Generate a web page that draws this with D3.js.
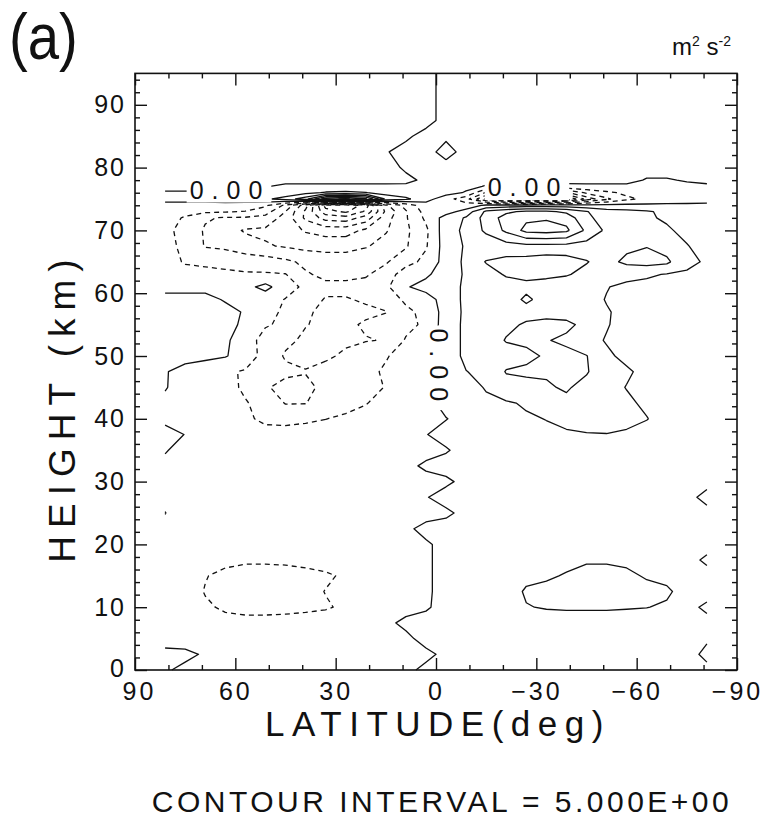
<!DOCTYPE html>
<html><head><meta charset="utf-8">
<script src="https://cdn.jsdelivr.net/npm/d3@7"></script>
<style>
html,body{margin:0;padding:0;background:#fff;}
svg{display:block;}
text{font-family:"Liberation Sans", Arial, sans-serif;fill:#111;}
</style></head><body>
<svg id="chart" width="767" height="831"></svg>
<script>
// latitude columns (deg) and height rows (km, top to bottom)
const lats = [81,75,69,63,57,51,45,39,33,27,21,15,9,3,-3,-9,-15,-21,-27,-33,-39,-45,-51,-57,-63,-69,-75,-81];
const heights = [95,92.5,90,87.5,85,82.5,80,78,77,76,75,74,73,72,70,67.5,65,63,61,59,57,55,52.5,50,47.5,45,42.5,40,37.5,35,32.5,30,27.5,25,22.5,20,17.5,15,12.5,10,7.5,5,2.5,0];
// field values (m2 s-2), one row per height
const field = [
[-1.5,-1.5,-1.5,-1.5,-1.5,-1.5,-1.5,-1.5,-1.5,-1.5,-1.5,-1.5,-1.5,-1,1,1.5,1.5,1.5,1.5,1.5,1.5,1.5,1.5,1.5,1.5,1.5,1.5,1.5],
[-1.5,-1.5,-1.5,-1.5,-1.5,-1.5,-1.5,-1.5,-1.5,-1.5,-1.5,-1.5,-1.5,-1,1,1.5,1.5,1.5,1.5,1.5,1.5,1.5,1.5,1.5,1.5,1.5,1.5,1.5],
[-1.5,-1.5,-1.5,-1.5,-1.5,-1.5,-1.5,-1.5,-1.5,-1.5,-1.5,-1.5,-1.5,-1,1,1.5,1.5,1.5,1.5,1.5,1.5,1.5,1.5,1.5,1.5,1.5,1.5,1.5],
[-1.5,-1.5,-1.5,-1.5,-1.5,-1.5,-1.5,-1.5,-1.5,-1.5,-1.5,-1.5,-1.5,-1,1,1.5,1.5,1.5,1.5,1.5,1.5,1.5,1.5,1.5,1.5,1.5,1.5,1.5],
[-1.5,-1.5,-1.5,-1.5,-1.5,-1.5,-1.5,-1.5,-1.5,-1.5,-1.5,-1.5,-0.5,1,0.5,1.5,1.5,1.5,1.5,1.5,1.5,1.5,1.5,1.5,1.5,1.5,1.5,1.5],
[-1.5,-1.5,-1.5,-1.5,-1.5,-1.5,-1.5,-1.5,-1.5,-1.5,-1.5,-0.2,1,1,-1,1,1.5,1.5,1.5,1.5,1.5,1.5,1.5,1.5,1.5,1.5,1.5,1.5],
[-1.5,-1.5,-1.5,-1.5,-1.5,-1.5,-1.5,-1.5,-1.5,-1.5,-1.5,-1,0.4,1,1,1.5,1.5,1.5,1.5,1.5,1.5,1.5,1.5,1.5,1.5,1.5,1.5,1.5],
[-1.5,-1.5,-1.5,-1.5,-1.5,-1.5,-1.5,-1.5,-1.5,-1.5,-1.5,-1.5,-0.6,0.5,1.2,1.2,1.2,1.2,1.2,1.2,1.2,1.2,1.2,1.2,-0.3,-0.3,0.3,0.8],
[-1.5,-1.5,-1.5,-1,-1,-0.3,1,1,1,1,1,1,0.5,1.5,1.5,1.2,-0.3,-1,-1.5,-1.5,-1,-0.8,-0.8,-0.8,-1,-1,-0.8,-0.6],
[0.5,0.5,0.5,0.8,0.8,1.2,1.8,3.5,5.5,6,5.2,2.8,2,2,2,-0.5,-10.5,-16,-21,-19,-16,-9,-6,-4,-3,-2.5,-2,-1.5],
[2,2,2,2.5,3,4,7,13,28,31,26,9,6,2,-3,-8,-21,-32,-41,-38,-31,-18,-11,-6,-4,-3,-2.5,-2],
[-2,-2,-2,-2,-2.5,-4,-11,-23,-42,-44,-38,-16,-8,-2,-3,-3,1,1.5,2,2,2,1.5,1.5,1.2,1,1,1,1],
[-2.5,-3.5,-4,-4.5,-5.2,-8,-15,-26,-38,-41,-34,-19,-10.5,-3,-2,2,11,14,16,16,14,10.3,7,6.5,5.5,4,3,2.5],
[-3,-5.5,-9.5,-10.5,-10.5,-11.5,-17,-26,-32,-33,-28,-17,-10.5,-4,2,5.5,12,17,19,19.5,18,11,8,7,5.5,4.5,3.5,3],
[-3.5,-7,-10.5,-13,-15.5,-16,-17.5,-20.5,-22,-22,-19,-15.5,-11,-6,3,6,11,16,21.5,22,21,14,9,7.5,6.5,5.5,4,3],
[-3,-6.5,-10.3,-11,-13,-14.5,-15.5,-16.5,-17,-17,-15.5,-13,-10.5,-5.5,2.5,5.5,6.5,8,8.5,8.5,8.5,8,7.5,9,9.8,8,5.2,3.5],
[-2.8,-5.5,-6,-6.5,-7,-7.5,-9,-11,-12,-12,-11,-10.5,-7,-3.5,2,6,10.3,11,10.8,11.2,11,10.2,8.5,11,12,11,6,4.5],
[-1.5,-3,-3.5,-4,-4.5,-4.5,-4.8,-9.5,-11,-11,-10.5,-8,-2,-1,3,5.5,8,10.5,11,10.8,10.3,9,7,6.5,5.5,4.8,4.5,4],
[-1,-1,-1,-1.3,-1.5,1.5,-3,-6,-9,-9,-8.5,-6,-0.5,2,2.5,6,7.5,8,9,8.5,8,7,5.2,4,4,4,3.8,3.8],
[1,1,1,-0.3,-1,-3,-5.2,-8,-10.3,-10.3,-9.5,-8,-4,-2.5,2.5,6,7.5,8,10.7,8.5,8,6.5,4.8,3.8,3.5,3.5,3.5,3.5],
[1,1,1,1,-0.3,-3.5,-5.8,-9.5,-10.8,-11,-10.8,-10.2,-6.2,-3.5,2,6,7.5,8.2,8.5,8.8,8.5,7.5,5.3,4,3.5,3.5,3.5,3.5],
[1,1,1,0.8,-0.5,-4.5,-6,-9.8,-11,-10.8,-9.5,-8,-6.5,-4,2.5,6,7.5,9,10.5,11,10.8,9,5.2,4,3.5,3.5,3.5,3.5],
[1,1,1,0.8,-2.5,-7,-9,-10.8,-11,-10.5,-10.2,-9.8,-4.5,-2,2.5,6,7.5,10.3,10.8,10.2,9.3,6,4.8,4,3.5,3.5,3.5,3.5],
[1,1,0.8,0.3,-2,-7,-10.5,-11,-10.5,-9.5,-8,-5.3,-3.5,-2,2.5,6,7,8,9,10.5,11,10.2,5.5,4.3,3.5,3.5,3.5,3.5],
[0.2,-1,-2,-4.2,-5.5,-8,-9,-9.8,-9,-8,-6,-4.5,-3,-2,2.5,4.9,6,10.3,10.8,10.5,11,10.4,7,5.4,4.2,3.5,3.5,3.5],
[0.3,-2,-3,-4,-5.5,-9.5,-11.5,-11,-9,-7.5,-6.5,-4.8,-3,-2,2,4,5.2,8,8.5,9.5,10.5,8.5,6,4.9,4,4,4,4],
[-1,-2,-3,-4,-4.8,-6,-10.3,-10.2,-7,-6,-5.2,-3.5,-2.5,-2,2,3,4.5,4.5,5.5,6.5,9,7.5,6.5,5.5,4.5,4,4,4],
[-1,-2,-2.5,-3.5,-4.5,-5.6,-5.6,-5.4,-5.05,-4.5,-3.5,-2.5,-2,-2,-0.2,2,3,4,4.5,5.1,6,6.5,6.5,6,5.1,4,3.5,3],
[1.5,-0.1,-2,-2.5,-3.5,-4,-4.2,-4,-3.8,-3.5,-3,-2.5,-2,-0.2,2,2.5,3,3.5,3.8,4.2,4.5,4.8,4.9,4.5,4,3.5,3,2.5],
[0.3,-1.5,-2,-2.2,-2.5,-2.8,-2.8,-2.5,-2.3,-2.2,-2,-2,-2,-2,-0.5,2,2.5,2.8,3,3,3.2,3.3,3.3,3,2.8,2.5,2.2,2],
[-1,-1.5,-2,-2,-2.2,-2.3,-2.3,-2.2,-2,-2,-2,-2,-1.5,1,2,2,2.3,2.5,2.5,2.6,2.8,2.8,2.8,2.6,2.5,2.3,2,1.8],
[-1,-1.5,-2,-2,-2,-2,-2,-2,-2,-2,-2,-2,-2,-2,-1,1.5,2,2.3,2.5,2.5,2.5,2.5,2.5,2.5,2.3,2,2,1.5],
[-1,-1.5,-2,-2,-2,-2,-2,-2,-2,-2,-2,-2,-2,-0.3,2,2.2,2.3,2.3,2.3,2.3,2.3,2.3,2.3,2.3,2.2,2,1.5,-1.5],
[0.1,-2,-2,-2,-2,-2,-2,-2,-2,-2,-2,-2,-2,-2,-1,1.5,2,2,2,2,2,2,2,2,2,2,2,1.5],
[-1,-2,-2,-2,-2,-2,-2,-2,-2,-2,-2,-2,-1,1.5,2,2,2,2,2,2,2,2,2,2,2,2,2,1.5],
[-1,-2,-2.5,-3,-3,-3,-3,-3,-2.5,-2.5,-2,-2,-2,-0.7,1.5,2,2,2.2,2.5,2.8,3,3.2,3.2,3,2.8,2.5,2,1.5],
[-1,-2,-3,-4,-4.3,-4.3,-4.3,-4,-3.5,-3,-2.5,-2,-1.5,-0.7,1.5,2,2.5,3,3.2,3.5,4,4.5,4.5,4,3.5,3,1.5,-0.8],
[-1,-3,-4.8,-6,-7,-7,-6.5,-6,-5.5,-4.5,-3,-2,-1.5,-0.7,1.5,2,2.5,3,4,4.5,5.3,6.5,6.5,6,4.5,4,2.5,1.5],
[-1,-3.2,-5.2,-6.5,-7.5,-7.5,-7,-6,-4.9,-4.5,-3,-2,-1.5,-0.7,1.5,2,2.5,3,5.5,6,7,7.5,7.5,7,6.5,5.6,3.5,2],
[-1,-2.5,-4.5,-5.5,-6,-6,-5.8,-5.5,-5.3,-4.5,-3,-2,-1.5,-0.5,1.5,2,2.5,3,4.8,5.3,5.5,5.5,5.5,5.3,5.1,4.5,1.5,-1],
[-1,-2,-3,-4,-4,-4,-4,-4,-3.5,-3,-2,-1,1,1.5,2,2,2.5,3,3,3,3,3,3,3,3,3,2,1.5],
[-3,-2,-2,-2,-2,-2,-2,-2,-2,-2,-2,-2,-1,1.5,2,2,2,2,2,2,2,2,2,2,2,2,1.5,0.5],
[2,1,-0.5,-1.5,-1.5,-1.5,-1.5,-1.5,-1.5,-1.5,-1.5,-1.5,-1.5,-1,1,1.5,1.5,1.5,1.5,1.5,1.5,1.5,1.5,1.5,1.5,1.5,1.5,-1],
[0.5,-1,-1.5,-1.5,-1.5,-1.5,-1.5,-1.5,-1.5,-1.5,-1.5,-1.5,-1,1,1.5,1.5,1.5,1.5,1.5,1.5,1.5,1.5,1.5,1.5,1.5,1.5,1.5,1]
];
const levels = [-50,-45,-40,-35,-30,-25,-20,-15,-10,-5,0,5,10,15,20,25,30,35];
const xMajorTicks = [90,60,30,0,-30,-60,-90];
const xMinorTicks = [80,70,50,40,20,10,-10,-20,-40,-50,-70,-80];
const yMajorTicks = [0,10,20,30,40,50,60,70,80,90];
const zeroLabels = [
  {lat:62.8, h:76.5, rot:0},
  {lat:-26.3, h:76.9, rot:0},
  {lat:-0.8, h:48.6, rot:90}
];

const svg = d3.select("#chart");
const X0 = 135, X1 = 737, Y0 = 670, Y1 = 73.4;
const x = d3.scaleLinear().domain([90,-90]).range([X0,X1]);
const y = d3.scaleLinear().domain([0,95]).range([Y0,Y1]);

const nx = lats.length, ny = heights.length;
const values = field.flat();
const contours = d3.contours().size([nx, ny]).thresholds(levels)(values);
function interp(arr, t){
  const n = arr.length;
  t = Math.max(0, Math.min(n-1, t));
  const i = Math.min(n-2, Math.floor(t));
  const f = t - i;
  return arr[i] + (arr[i+1]-arr[i]) * f;
}
const cg = svg.append("g");
contours.forEach(c => {
  let d = "";
  c.coordinates.forEach(poly => poly.forEach(ring => {
    const pts = ring.map(([px,py]) => {
      const ix = Math.max(0, Math.min(nx-1, px-0.5));
      const iy = Math.max(0, Math.min(ny-1, py-0.5));
      return {ix, iy, X: x(interp(lats, ix)), Y: y(interp(heights, iy))};
    });
    const a0 = pts[0], aL = pts[pts.length-1];
    if (a0.ix !== aL.ix || a0.iy !== aL.iy) pts.push(a0);
    let pen = false;
    for (let k = 0; k < pts.length-1; k++){
      const a = pts[k], b = pts[k+1];
      const onB = (a.ix===0&&b.ix===0)||(a.ix===nx-1&&b.ix===nx-1)||(a.iy===0&&b.iy===0)||(a.iy===ny-1&&b.iy===ny-1);
      if (onB){ pen = false; continue; }
      if (!pen){ d += "M" + a.X.toFixed(2) + "," + a.Y.toFixed(2); pen = true; }
      d += "L" + b.X.toFixed(2) + "," + b.Y.toFixed(2);
    }
  }));
  if (!d) return;
  cg.append("path").attr("d", d).attr("fill","none").attr("stroke","#111")
    .attr("stroke-width", 1.3).attr("stroke-linejoin","round")
    .attr("stroke-dasharray", c.value < 0 ? "5,4" : null);
});

// zero labels
zeroLabels.forEach(L => {
  const g = svg.append("g").attr("transform", `translate(${x(L.lat)},${y(L.h)}) rotate(${L.rot})`);
  const t = g.append("text").text("0.00").attr("text-anchor","middle").attr("dy","0.36em")
    .attr("dx", 4).style("font-size","25px").style("letter-spacing","8px");
  const bb = t.node().getBBox();
  g.insert("rect","text").attr("x", bb.x-3).attr("y", bb.y+1).attr("width", bb.width+4).attr("height", bb.height-2).attr("fill","#fff");
});

// frame
svg.append("rect").attr("x",X0).attr("y",Y1).attr("width",X1-X0).attr("height",Y0-Y1)
  .attr("fill","none").attr("stroke","#111").attr("stroke-width",1.6);

const fmt = d => d < 0 ? "\u2212" + (-d) : String(d);
function styleAxis(g, spacing){
  g.select(".domain").remove();
  g.selectAll(".tick line").attr("stroke","#111").attr("stroke-width",1.4);
  g.selectAll(".tick text").style("font-family","'Liberation Sans', Arial, sans-serif").style("font-size","25px").style("letter-spacing", (spacing===undefined?3:spacing)+"px").attr("fill","#111");
}
const yMinor = d3.range(0, 95, 2).filter(v => v % 10 !== 0);
const bottomAxis = svg.append("g").attr("transform",`translate(0,${Y0})`).call(d3.axisBottom(x).tickValues(xMajorTicks).tickSize(-12).tickSizeOuter(0).tickPadding(12).tickFormat(fmt)).call(styleAxis);
bottomAxis.selectAll(".tick text").filter(d => d === 90).attr("dx", 4);
svg.append("g").attr("transform",`translate(0,${Y0})`).call(d3.axisBottom(x).tickValues(xMinorTicks).tickSize(-5).tickSizeOuter(0).tickFormat("")).call(styleAxis);
svg.append("g").attr("transform",`translate(0,${Y1})`).call(d3.axisTop(x).tickValues(xMajorTicks).tickSize(-12).tickSizeOuter(0).tickFormat("")).call(styleAxis);
svg.append("g").attr("transform",`translate(0,${Y1})`).call(d3.axisTop(x).tickValues(xMinorTicks).tickSize(-5).tickSizeOuter(0).tickFormat("")).call(styleAxis);
const leftAxis = svg.append("g").attr("transform",`translate(${X0},0)`).call(d3.axisLeft(y).tickValues(yMajorTicks).tickSize(-12).tickSizeOuter(0).tickPadding(9).tickFormat(d=>String(d))).call(g => styleAxis(g, 2));
leftAxis.selectAll(".tick text").filter(d => d === 0).attr("dy", "0.25em");
svg.append("g").attr("transform",`translate(${X0},0)`).call(d3.axisLeft(y).tickValues(yMinor).tickSize(-5).tickSizeOuter(0).tickFormat("")).call(styleAxis);
svg.append("g").attr("transform",`translate(${X1},0)`).call(d3.axisRight(y).tickValues(yMajorTicks).tickSize(-12).tickSizeOuter(0).tickFormat("")).call(styleAxis);
svg.append("g").attr("transform",`translate(${X1},0)`).call(d3.axisRight(y).tickValues(yMinor).tickSize(-5).tickSizeOuter(0).tickFormat("")).call(styleAxis);

// titles
svg.append("text").attr("transform","translate(9,59) scale(0.88,1)").style("font-size","64px").text("(a)");
const u = svg.append("text").attr("x",672).attr("y",55).style("font-size","24px");
u.append("tspan").text("m");
u.append("tspan").attr("dy",-9).style("font-size","14px").text("2");
u.append("tspan").attr("dy",9).text(" s");
u.append("tspan").attr("dy",-9).style("font-size","14px").text("-2");
svg.append("text").attr("transform","translate(75,407) rotate(-90)").attr("text-anchor","middle")
  .style("font-size","37px").style("letter-spacing","8px").text("HEIGHT (km)");
svg.append("text").attr("x",438).attr("y",736).attr("text-anchor","middle")
  .style("font-size","35px").style("letter-spacing","7.5px").text("LATITUDE(deg)");
svg.append("text").attr("x",442).attr("y",812).attr("text-anchor","middle")
  .style("font-size","30px").style("letter-spacing","3.5px").text("CONTOUR INTERVAL = 5.000E+00");
</script>
</body></html>
